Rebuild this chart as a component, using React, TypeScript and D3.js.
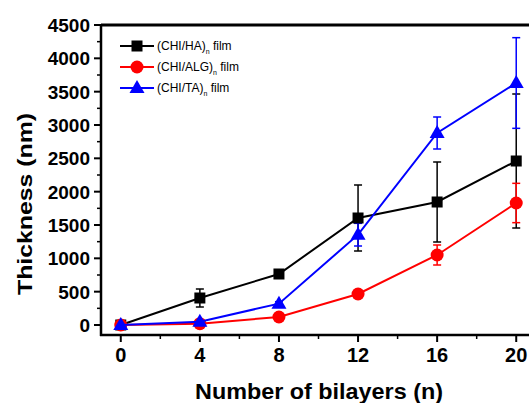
import React from 'react';
import * as d3 from 'd3';

const bilayers = [0, 4, 8, 12, 16, 20];
const haValues = [0, 405, 765, 1605, 1845, 2460];
const haErrors = [0, 135, 40, 495, 600, 1005];
const algValues = [0, 20, 120, 465, 1050, 1830];
const algErrors = [0, 15, 20, 30, 150, 295];
const taValues = [0, 50, 320, 1355, 2880, 3630];
const taErrors = [0, 20, 30, 170, 240, 680];
const yTicks = [0, 500, 1000, 1500, 2000, 2500, 3000, 3500, 4000, 4500];
const xTicks = [0, 4, 8, 12, 16, 20];
const seriesNames = ['(CHI/HA)', '(CHI/ALG)', '(CHI/TA)'];

const W = 529;
const H = 403;
const font = 'Arial, "Liberation Sans", sans-serif';

type Shape = 'square' | 'circle' | 'triangle';

function Marker({ shape, cx, cy, color }: { shape: Shape; cx: number; cy: number; color: string }) {
  if (shape === 'square') return <rect x={cx - 5.5} y={cy - 5.5} width={11} height={11} fill={color} />;
  if (shape === 'circle') return <circle cx={cx} cy={cy} r={6.5} fill={color} />;
  return <path d={`M${cx},${cy - 8} L${cx + 7.5},${cy + 5} L${cx - 7.5},${cy + 5} Z`} fill={color} />;
}

export default function App() {
  const x = d3.scaleLinear().domain([-1, 21]).range([101, 536]);
  const y = d3.scaleLinear().domain([-150, 4500]).range([335, 25]);
  const line = d3.line<[number, number]>().x(d => x(d[0])).y(d => y(d[1]));

  const series = [
    { name: seriesNames[0], values: haValues, errors: haErrors, color: '#000000', shape: 'square' as Shape },
    { name: seriesNames[1], values: algValues, errors: algErrors, color: '#ff0000', shape: 'circle' as Shape },
    { name: seriesNames[2], values: taValues, errors: taErrors, color: '#0000ff', shape: 'triangle' as Shape },
  ];

  const minorY = d3.range(250, 4500, 500);
  const minorX = d3.range(2, 21, 4);

  return (
    <svg width={W} height={H} style={{ position: 'absolute', left: 0, top: 0, background: '#fff' }}>
      {/* error bars */}
      {series.map(s => (
        <g key={s.name + 'err'} stroke={s.color} strokeWidth={1.5}>
          {bilayers.map((b, i) => {
            const e = s.errors[i];
            if (e < 25) return null;
            const top = y(s.values[i] + e);
            const bot = y(s.values[i] - e);
            return (
              <g key={i}>
                <line x1={x(b)} x2={x(b)} y1={top} y2={bot} />
                <line x1={x(b) - 4} x2={x(b) + 4} y1={top} y2={top} />
                <line x1={x(b) - 4} x2={x(b) + 4} y1={bot} y2={bot} />
              </g>
            );
          })}
        </g>
      ))}
      {/* lines and markers */}
      {series.map(s => (
        <g key={s.name}>
          <path
            d={line(bilayers.map((b, i) => [b, s.values[i]] as [number, number])) || ''}
            fill="none"
            stroke={s.color}
            strokeWidth={2}
          />
          {bilayers.map((b, i) => (
            <Marker key={i} shape={s.shape} cx={x(b)} cy={y(s.values[i])} color={s.color} />
          ))}
        </g>
      ))}

      {/* axes */}
      <line x1={101} x2={W} y1={25} y2={25} stroke="#000" strokeWidth={3} />
      <line x1={101} x2={101} y1={24} y2={336} stroke="#000" strokeWidth={2.5} />
      <line x1={100} x2={W} y1={335} y2={335} stroke="#000" strokeWidth={2.5} />
      {yTicks.map(t => (
        <g key={t}>
          <line x1={94} x2={101} y1={y(t)} y2={y(t)} stroke="#000" strokeWidth={2} />
          <text x={90} y={y(t)} dy="0.36em" textAnchor="end" fontFamily={font} fontWeight="bold" fontSize={19}>
            {t}
          </text>
        </g>
      ))}
      {minorY.map(t => (
        <line key={t} x1={97} x2={101} y1={y(t)} y2={y(t)} stroke="#000" strokeWidth={1.5} />
      ))}
      {xTicks.map(t => (
        <g key={t}>
          <line x1={x(t)} x2={x(t)} y1={335} y2={342} stroke="#000" strokeWidth={2} />
          <text x={x(t)} y={362} textAnchor="middle" fontFamily={font} fontWeight="bold" fontSize={20}>
            {t}
          </text>
        </g>
      ))}
      {minorX.map(t => (
        <line key={t} x1={x(t)} x2={x(t)} y1={335} y2={339} stroke="#000" strokeWidth={1.5} />
      ))}

      {/* axis titles */}
      <text
        x={195}
        y={399}
        fontFamily={font}
        fontWeight="bold"
        fontSize={22}
        textLength={248}
        lengthAdjust="spacingAndGlyphs"
      >
        Number of bilayers (n)
      </text>
      <text
        transform="translate(32,295) rotate(-90)"
        fontFamily={font}
        fontWeight="bold"
        fontSize={21}
        textLength={182}
        lengthAdjust="spacingAndGlyphs"
      >
        Thickness (nm)
      </text>

      {/* legend */}
      {series.map((s, i) => {
        const ly = 46 + i * 21;
        return (
          <g key={s.name + 'leg'}>
            <line x1={120} x2={154} y1={ly} y2={ly} stroke={s.color} strokeWidth={2} />
            <Marker shape={s.shape} cx={137} cy={ly} color={s.color} />
            <text x={157} y={ly} dy="0.36em" fontFamily={font} fontSize={12}>
              {s.name}
              <tspan fontSize={7} dy={4}>n</tspan>
              <tspan dy={-4}> film</tspan>
            </text>
          </g>
        );
      })}
    </svg>
  );
}
